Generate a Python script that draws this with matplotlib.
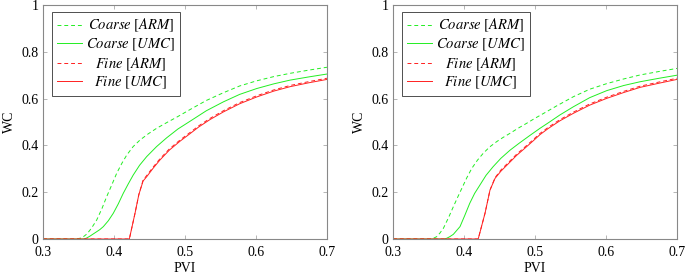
import matplotlib.pyplot as plt

plt.rcParams['font.family'] = ['Liberation Serif', 'DejaVu Serif']
plt.rcParams['mathtext.fontset'] = 'stix'

# --- left panel ---
L_coarse_arm_x = [0.30, 0.345, 0.352, 0.357, 0.362, 0.368, 0.3756, 0.383, 0.3897, 0.397, 0.4038, 0.411,
                  0.418, 0.427, 0.4366, 0.448, 0.46, 0.474, 0.488, 0.507, 0.53, 0.554, 0.577, 0.601,
                  0.625, 0.648, 0.675, 0.70]
L_coarse_arm_y = [0.0, 0.0, 0.003, 0.01, 0.022, 0.045, 0.081, 0.13, 0.181, 0.232, 0.281, 0.323,
                  0.359, 0.395, 0.423, 0.449, 0.473, 0.497, 0.52, 0.553, 0.592, 0.625, 0.654, 0.676,
                  0.694, 0.708, 0.722, 0.734]
L_coarse_umc_x = [0.30, 0.358, 0.362, 0.366, 0.370, 0.375, 0.380, 0.385, 0.392, 0.399, 0.406, 0.413,
                  0.420, 0.427, 0.436, 0.446, 0.460, 0.474, 0.490, 0.507, 0.530, 0.554, 0.577, 0.601,
                  0.625, 0.648, 0.675, 0.70]
L_coarse_umc_y = [0.0, 0.0, 0.005, 0.012, 0.02, 0.03, 0.04, 0.053, 0.078, 0.11, 0.15, 0.195,
                  0.235, 0.273, 0.315, 0.352, 0.395, 0.432, 0.47, 0.503, 0.548, 0.586, 0.618, 0.643,
                  0.663, 0.679, 0.693, 0.705]
L_fine_arm_x = [0.30, 0.4216, 0.4296, 0.435, 0.441, 0.446, 0.455, 0.4648, 0.478, 0.493, 0.507, 0.519,
                0.535, 0.554, 0.577, 0.601, 0.625, 0.648, 0.675, 0.70]
L_fine_arm_y = [0.0, 0.0, 0.11, 0.19, 0.252, 0.271, 0.307, 0.343, 0.385, 0.423, 0.455, 0.483,
                0.515, 0.548, 0.583, 0.612, 0.637, 0.656, 0.673, 0.687]
L_fine_umc_x = [0.30, 0.4216, 0.4296, 0.435, 0.441, 0.446, 0.455, 0.4648, 0.478, 0.493, 0.507, 0.519,
                0.535, 0.554, 0.577, 0.601, 0.625, 0.648, 0.675, 0.70]
L_fine_umc_y = [0.0, 0.0, 0.11, 0.19, 0.248, 0.266, 0.302, 0.338, 0.38, 0.418, 0.45, 0.478,
                0.51, 0.543, 0.578, 0.607, 0.632, 0.651, 0.668, 0.682]

# --- right panel ---
R_coarse_arm_x = [0.30, 0.355, 0.3615, 0.366, 0.371, 0.378, 0.385, 0.391, 0.397, 0.404, 0.411, 0.419,
                  0.427, 0.436, 0.446, 0.455, 0.465, 0.476, 0.488, 0.50, 0.514, 0.53, 0.554, 0.577,
                  0.601, 0.625, 0.648, 0.675, 0.70]
R_coarse_arm_y = [0.0, 0.0, 0.01, 0.025, 0.046, 0.09, 0.138, 0.178, 0.217, 0.262, 0.302, 0.337,
                  0.366, 0.393, 0.416, 0.434, 0.452, 0.473, 0.494, 0.516, 0.54, 0.568, 0.608, 0.64,
                  0.664, 0.684, 0.701, 0.716, 0.729]
R_coarse_umc_x = [0.30, 0.372, 0.3756, 0.380, 0.385, 0.3944, 0.401, 0.408, 0.415, 0.4225, 0.431, 0.441,
                  0.452, 0.465, 0.478, 0.493, 0.507, 0.519, 0.535, 0.554, 0.577, 0.601, 0.625, 0.648,
                  0.675, 0.70]
R_coarse_umc_y = [0.0, 0.0, 0.003, 0.01, 0.02, 0.053, 0.1, 0.152, 0.195, 0.231, 0.272, 0.309,
                  0.345, 0.38, 0.41, 0.443, 0.473, 0.497, 0.53, 0.565, 0.604, 0.634, 0.656, 0.672,
                  0.687, 0.70]
R_fine_arm_x = [0.30, 0.42, 0.4296, 0.4366, 0.4437, 0.452, 0.4606, 0.474, 0.488, 0.498, 0.507, 0.519,
                0.535, 0.554, 0.577, 0.601, 0.625, 0.648, 0.675, 0.70]
R_fine_arm_y = [0.0, 0.0, 0.11, 0.209, 0.262, 0.295, 0.321, 0.362, 0.399, 0.426, 0.451, 0.478,
                0.51, 0.542, 0.577, 0.606, 0.631, 0.653, 0.671, 0.687]
R_fine_umc_x = [0.30, 0.42, 0.4296, 0.4366, 0.4437, 0.452, 0.4606, 0.474, 0.488, 0.498, 0.507, 0.519,
                0.535, 0.554, 0.577, 0.601, 0.625, 0.648, 0.675, 0.70]
R_fine_umc_y = [0.0, 0.0, 0.11, 0.209, 0.259, 0.29, 0.316, 0.357, 0.394, 0.421, 0.446, 0.473,
                0.505, 0.537, 0.572, 0.601, 0.626, 0.648, 0.666, 0.682]

labels = [r'$\mathit{Coarse}\ [\mathit{ARM}]$', r'$\mathit{Coarse}\ [\mathit{UMC}]$',
          r'$\mathit{Fine}\ [\mathit{ARM}]$', r'$\mathit{Fine}\ [\mathit{UMC}]$']

GREEN = '#22ee22'
RED = '#ff2020'
FS = 10

fig = plt.figure(figsize=(6.85, 2.75), dpi=100)
ax1 = fig.add_axes([43 / 685, 1 - 239 / 275, 284 / 685, 234 / 275])
ax2 = fig.add_axes([393 / 685, 1 - 239 / 275, 284 / 685, 234 / 275])

panels = [
    (ax1, L_coarse_arm_x, L_coarse_arm_y, L_coarse_umc_x, L_coarse_umc_y,
     L_fine_arm_x, L_fine_arm_y, L_fine_umc_x, L_fine_umc_y),
    (ax2, R_coarse_arm_x, R_coarse_arm_y, R_coarse_umc_x, R_coarse_umc_y,
     R_fine_arm_x, R_fine_arm_y, R_fine_umc_x, R_fine_umc_y),
]

fig.canvas.draw()
renderer = fig.canvas.get_renderer()

for ax, cax, cay, cux, cuy, fax, fay, fux, fuy in panels:
    ax.plot(cax, cay, color=GREEN, lw=0.7, ls=(0, (4, 3)), label=labels[0])
    ax.plot(cux, cuy, color=GREEN, lw=0.7, label=labels[1])
    ax.plot(fax, fay, color=RED, lw=0.7, ls=(0, (4, 3)), label=labels[2])
    ax.plot(fux, fuy, color=RED, lw=0.7, label=labels[3])

    ax.set_xlim(0.3, 0.7)
    ax.set_ylim(0, 1)
    ax.set_xticks([0.3, 0.4, 0.5, 0.6, 0.7])
    ax.set_xticklabels(['0.3', '0.4', '0.5', '0.6', '0.7'])
    ax.set_yticks([0, 0.2, 0.4, 0.6, 0.8, 1])
    ax.set_yticklabels(['0', '0.2', '0.4', '0.6', '0.8', '1'])
    ax.tick_params(direction='in', length=3, width=0.6, color='#aaaaaa',
                   top=True, right=True, labelsize=FS)
    ax.tick_params(axis='x', pad=5)
    ax.tick_params(axis='y', pad=3)
    for s in ax.spines.values():
        s.set_color('#888888')
        s.set_linewidth(0.8)
    ax.set_xlabel('PVI', fontsize=FS, labelpad=2)
    ax.set_ylabel('WC', fontsize=FS, labelpad=4)

    leg = ax.legend(loc='upper left', bbox_to_anchor=(0.032, 0.97), fontsize=FS + 0.5,
                    fancybox=False, framealpha=1, edgecolor='#333333', handlelength=1.7,
                    handletextpad=0.3, borderpad=0.35, labelspacing=0.15, borderaxespad=0)
    leg.get_frame().set_linewidth(0.6)
    # centre the entries like pgfplots does
    widths = [t.get_window_extent(renderer).width for t in leg.get_texts()]
    wmax = max(widths)
    for t, w in zip(leg.get_texts(), widths):
        t.set_position(((wmax - w) / 2, 0))

plt.savefig('out.png', dpi=100)
